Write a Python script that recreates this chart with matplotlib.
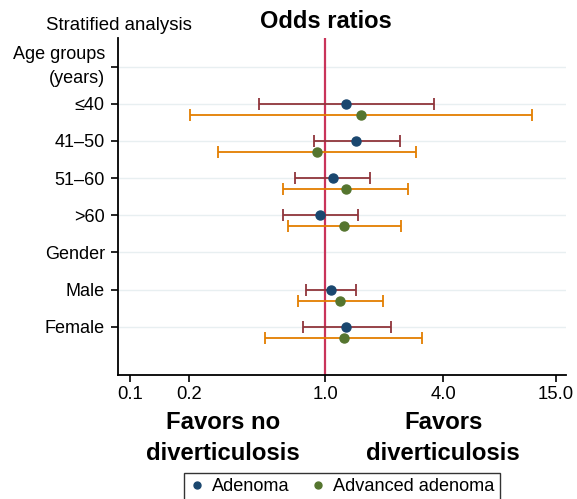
import numpy as np
import matplotlib
matplotlib.use('Agg')
import matplotlib.pyplot as plt
import matplotlib.transforms as mtransforms
from matplotlib.lines import Line2D

plt.rcParams['font.family'] = ['Liberation Sans', 'DejaVu Sans']

# row labels, top to bottom
row_labels = ['Age groups\n(years)', '\u226440', '41\u201350', '51\u201360', '>60',
              'Gender', 'Male', 'Female']
# rows that carry estimates
data_rows = ['\u226440', '41\u201350', '51\u201360', '>60', 'Male', 'Female']

aden_or = [1.28, 1.44, 1.095, 0.94, 1.07, 1.28]
aden_lo = [0.458, 0.873, 0.70, 0.608, 0.797, 0.769]
aden_hi = [3.58, 2.40, 1.69, 1.47, 1.44, 2.17]

adv_or = [1.52, 0.907, 1.27, 1.25, 1.19, 1.24]
adv_lo = [0.203, 0.283, 0.608, 0.645, 0.725, 0.492]
adv_hi = [11.4, 2.91, 2.65, 2.44, 1.97, 3.11]

xticks = [0.1, 0.2, 1.0, 4.0, 15.0]
xtick_labels = ['0.1', '0.2', '1.0', '4.0', '15.0']

NAVY = '#1a476f'
GREEN = '#55752f'
MAROON = '#90353b'
ORANGE = '#e37e00'
REFRED = '#c9345a'

fig = plt.figure(figsize=(5.77, 4.99), dpi=100)
ax = fig.add_axes([0.2045, 0.2485, 0.7765, 0.6753])

n = len(row_labels)
ypos = {lab: n - i for i, lab in enumerate(row_labels)}
y_aden = np.array([ypos[r] for r in data_rows], dtype=float)
y_adv = y_aden - 0.3

ax.set_xscale('log')
ax.set_xlim(0.0871, 16.95)
ax.set_ylim(-0.30, n + 0.77)

for y in ypos.values():
    ax.axhline(y, color='#e8eff1', lw=1.0, zorder=0)

ax.axvline(1.0, color=REFRED, lw=1.6, zorder=1)

aden_err = [np.array(aden_or) - np.array(aden_lo), np.array(aden_hi) - np.array(aden_or)]
adv_err = [np.array(adv_or) - np.array(adv_lo), np.array(adv_hi) - np.array(adv_or)]

ax.errorbar(aden_or, y_aden, xerr=aden_err, fmt='none', ecolor=MAROON,
            elinewidth=1.3, capsize=4, capthick=1.3, zorder=2)
ax.errorbar(adv_or, y_adv, xerr=adv_err, fmt='none', ecolor=ORANGE,
            elinewidth=1.3, capsize=4, capthick=1.3, zorder=2)
ax.plot(aden_or, y_aden, 'o', color=NAVY, ms=6.5, zorder=3)
ax.plot(adv_or, y_adv, 'o', color=GREEN, ms=6.5, zorder=3)

ax.set_yticks(list(ypos.values()))
ylabs = ax.set_yticklabels(list(ypos.keys()), fontsize=13, linespacing=1.5)
ylabs[0].set_va('center')
ax.set_xticks(xticks)
ax.set_xticklabels(xtick_labels, fontsize=13.3)
ax.xaxis.set_minor_locator(matplotlib.ticker.NullLocator())
ax.tick_params(axis='both', direction='out', length=5, width=1.2, color='black')
ax.tick_params(axis='y', pad=4.5)
ax.tick_params(axis='x', pad=3)

for s in ['top', 'right']:
    ax.spines[s].set_visible(False)
for s in ['left', 'bottom']:
    ax.spines[s].set_linewidth(1.3)

trans = mtransforms.blended_transform_factory(ax.transData, fig.transFigure)
ax.text(1.0, 0.956, 'Odds ratios', transform=trans, ha='center', va='center',
        fontsize=17, fontweight='bold')
fig.text(0.079, 0.948, 'Stratified analysis', ha='left', va='center', fontsize=13.4)

ax.text(0.3, 0.122, 'Favors no\ndiverticulosis', transform=trans, ha='center',
        va='center', fontsize=17.2, fontweight='bold', linespacing=1.42)
ax.text(4.0, 0.122, 'Favors\ndiverticulosis', transform=trans, ha='center',
        va='center', fontsize=17.2, fontweight='bold', linespacing=1.42)

handles = [Line2D([], [], marker='o', ls='none', color=NAVY, ms=5),
           Line2D([], [], marker='o', ls='none', color=GREEN, ms=5)]
leg = fig.legend(handles, ['Adenoma', 'Advanced adenoma'], loc='upper center',
                 bbox_to_anchor=(0.593, 0.053), ncol=2, fontsize=13.1,
                 frameon=True, fancybox=False, edgecolor='black',
                 handlelength=0.8, handletextpad=0.4, columnspacing=1.2,
                 borderpad=0.3, borderaxespad=0)
leg.get_frame().set_linewidth(1.0)

plt.savefig('out.png', dpi=100)
